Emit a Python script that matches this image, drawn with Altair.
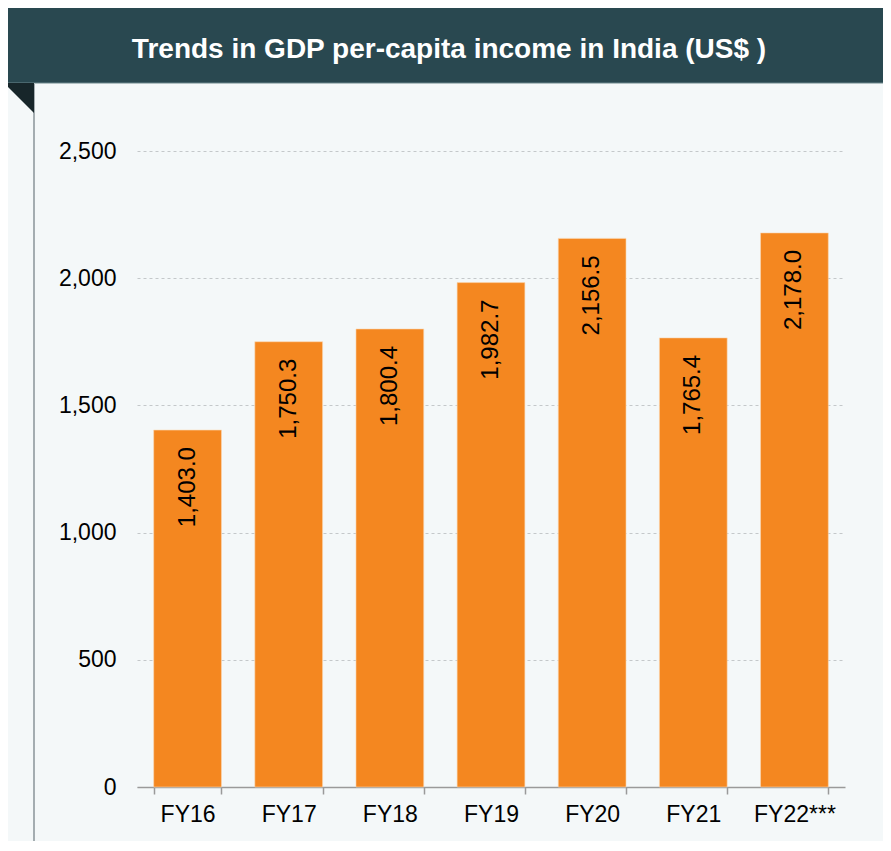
import altair as alt
import pandas as pd

categories = ["FY16", "FY17", "FY18", "FY19", "FY20", "FY21", "FY22***"]
values = [1403.0, 1750.3, 1800.4, 1982.7, 2156.5, 1765.4, 2178.0]
y_ticks = [0, 500, 1000, 1500, 2000, 2500]
title_text = "Trends in GDP per-capita income in India (US$ )"

df = pd.DataFrame({"cat": categories, "val": values})
df["lbl"] = [f"{v:,.1f}" for v in values]

FONT = "Liberation Sans"
W, H = 708, 636

x_enc = alt.X(
    "cat:N", sort=categories, title=None,
    scale=alt.Scale(paddingInner=0.33, paddingOuter=0.165),
    axis=alt.Axis(labelAngle=0, labelFont=FONT, labelFontSize=23, labelColor="#000000",
                  labelPadding=9, tickBand="extent", ticks=True, tickSize=7,
                  tickColor="#9a9a9a", tickWidth=1.5, domainColor="#9a9a9a",
                  domainWidth=1.5, grid=False),
)
y_enc = alt.Y(
    "val:Q", title=None,
    scale=alt.Scale(domain=[0, 2500], nice=False),
    axis=alt.Axis(values=y_ticks, format=",.0f", labelFont=FONT, labelFontSize=23,
                  labelColor="#000000", labelPadding=21, ticks=False, domain=False,
                  grid=True, gridColor="#c4c8ca", gridDash=[3, 3], gridWidth=1),
)

bars = alt.Chart(df).mark_bar(color="#f48720", stroke="#fbd9b4", strokeWidth=0.6).encode(
    x=x_enc, y=y_enc
)

labels = alt.Chart(df).mark_text(
    angle=270, align="right", baseline="middle", dx=-17,
    font=FONT, fontSize=24, color="#000000"
).encode(x=alt.X("cat:N", sort=categories), y="val:Q", text="lbl:N")

one = alt.Data(values=[{"k": 1}])

header = alt.Chart(one).mark_rect(color="#294850", stroke="#6d878c", strokeWidth=1).encode(
    x=alt.value(-140), x2=alt.value(W + 60), y=alt.value(-145), y2=alt.value(-68)
)

title = alt.Chart(one).mark_text(
    text=title_text, font=FONT, fontSize=28, fontWeight="bold", color="#ffffff",
    align="center", baseline="alphabetic"
).encode(x=alt.value(449 - 137), y=alt.value(58 - 151))

left_line = alt.Chart(one).mark_rule(color="#8a9599", strokeWidth=1.5).encode(
    x=alt.value(34 - 137), y=alt.value(-67), y2=alt.value(720)
)

triangle = alt.Chart(one).mark_point(
    shape="M-1,-1 L1,-1 L1,1 Z", filled=True, color="#17262a", opacity=1, size=900
).encode(x=alt.value(19 - 137), y=alt.value(98 - 151))

chart = alt.layer(header, title, left_line, triangle, bars, labels).properties(
    width=W, height=H,
    padding={"left": 129, "top": 143, "right": 38, "bottom": 54},
    autosize=alt.AutoSizeParams(type="none"),
    background="#f4f8f9",
).configure_view(stroke=None)

chart.save("out.html", embed_options={"renderer": "svg", "actions": False})
